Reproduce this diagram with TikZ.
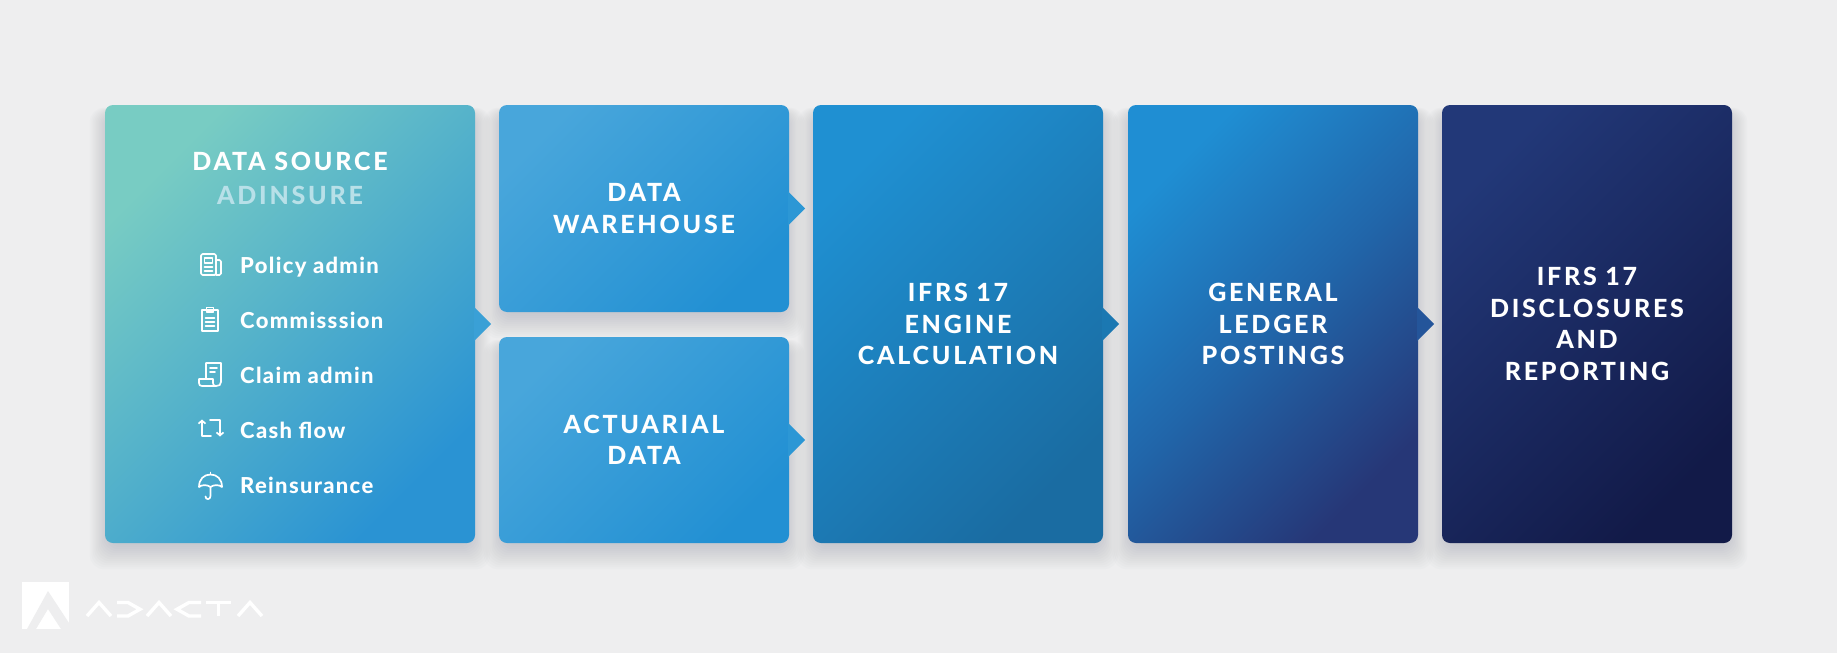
\documentclass[tikz,border=0pt]{standalone}
\usepackage{fontspec}
\setmainfont{Lato}
\newfontfamily\headfont{Lato}[LetterSpace=11,BoldFont={* Heavy}]
\newfontfamily\itemfont{Lato}[LetterSpace=6,BoldFont={* Heavy}]
\usetikzlibrary{arrows.meta,calc}
\pgfdeclarelayer{bgfill}
\pgfdeclarelayer{shadow}
\pgfsetlayers{bgfill,shadow,main}
\definecolor{bg}{HTML}{EEEEEF}
\definecolor{shd}{HTML}{8E90A0}
\definecolor{ca}{HTML}{78CCC3}
\definecolor{cb}{HTML}{2A93D3}
\definecolor{da}{HTML}{48A6DB}
\definecolor{db}{HTML}{2290D3}
\definecolor{ea}{HTML}{1F90D2}
\definecolor{eb}{HTML}{1A6CA2}
\definecolor{ga}{HTML}{1F8ED3}
\definecolor{gm}{HTML}{2166AA}
\definecolor{gb}{HTML}{263777}
\definecolor{ra}{HTML}{223878}
\definecolor{rb}{HTML}{121A48}
\definecolor{adins}{HTML}{B8E0E8}
\definecolor{tabA}{HTML}{3AA0D6}
\definecolor{tabB}{HTML}{2C97D5}
\definecolor{tabE}{HTML}{1B78B2}
\definecolor{tabG}{HTML}{24559A}
\tikzset{
  box/.style 2 args={rectangle, rounded corners=8pt, inner sep=0pt, text=white, align=center,
    font=\headfont\bfseries\fontsize{25}{31.5}\selectfont,
    top color=#1, bottom color=#2, shading angle=45},
  head/.style={text=white, anchor=base, font=\headfont\bfseries\fontsize{25}{31.5}\selectfont, inner sep=0pt},
  item/.style={text=white, anchor=base west, font=\itemfont\bfseries\fontsize{22}{26}\selectfont, inner sep=0pt},
  icon/.style={draw=white, line width=1.7pt, line cap=round, line join=round},
  logo/.style={draw=white, line width=3.4pt, line join=miter, line cap=butt},
  shadowpart/.style={fill=shd, opacity=0.03, rounded corners=14pt}
}
\newcommand\boxshadow[1]{%
  \foreach \i in {1,...,14}{%
    \path[shadowpart] ($(#1.north west)+(-\i*1.5+6,-\i*0.5+10)$) rectangle ($(#1.south east)+(\i*1.5-6,\i*2-2)$);}}
\begin{document}
\begin{tikzpicture}[x=1pt,y=-1pt]
\useasboundingbox (0,0) rectangle (1837,653);
\begin{pgfonlayer}{bgfill}
\fill[bg] (0,0) rectangle (1837,653);
\end{pgfonlayer}

% boxes
\node[box={ca}{cb}, minimum width=370pt, minimum height=438pt] (src) at (290,324) {};
\node[box={da}{db}, minimum width=290pt, minimum height=207pt] (dw) at (644,208.5) {DATA\\WAREHOUSE};
\node[box={da}{db}, minimum width=290pt, minimum height=206pt] (act) at (644,440) {ACTUARIAL\\DATA};
\node[box={ea}{eb}, minimum width=290pt, minimum height=438pt] (eng) at (958,324) {IFRS 17\\ENGINE\\CALCULATION};
\node[box={ga}{gb}, middle color=gm, shading angle=45, minimum width=290pt, minimum height=438pt] (gl) at (1273,324) {GENERAL\\LEDGER\\POSTINGS};
\node[box={ra}{rb}, minimum width=290pt, minimum height=438pt] (rep) at (1587,324) {IFRS 17\\DISCLOSURES\\AND\\REPORTING};

\begin{pgfonlayer}{shadow}
\boxshadow{src}\boxshadow{dw}\boxshadow{act}\boxshadow{eng}\boxshadow{gl}\boxshadow{rep}
\end{pgfonlayer}

% tabs (connectors)
\fill[tabA] ($(src.east)+(-1,-17)$) -- ($(src.east)+(16,0)$) -- ($(src.east)+(-1,17)$) -- cycle;
\fill[tabB] ($(dw.east)+(-1,-17)$) -- ($(dw.east)+(16,0)$) -- ($(dw.east)+(-1,17)$) -- cycle;
\fill[tabB] ($(act.east)+(-1,-17)$) -- ($(act.east)+(16,0)$) -- ($(act.east)+(-1,17)$) -- cycle;
\fill[tabE] ($(eng.east)+(-1,-17)$) -- ($(eng.east)+(16,0)$) -- ($(eng.east)+(-1,17)$) -- cycle;
\fill[tabG] ($(gl.east)+(-1,-17)$) -- ($(gl.east)+(16,0)$) -- ($(gl.east)+(-1,17)$) -- cycle;

% data source content
\node[head] (t1) at (290,170) {DATA SOURCE};
\node[head, text=adins] (t2) at (290,204) {ADINSURE};
\node[item] (i1) at (240,273) {Policy admin};
\node[item] (i2) at (240,328) {Commisssion};
\node[item] (i3) at (240,383) {Claim admin};
\node[item] (i4) at (240,438) {Cash flow};
\node[item] (i5) at (240,493) {Reinsurance};

% icon: policy
\draw[icon, rounded corners=1.5pt] (201,254) rectangle (216,275);
\draw[icon, rounded corners=1.5pt] (216,260) -- (221,260) -- (221,275) -- (216,275);
\draw[icon] (204.5,258) rectangle (212.5,263);
\draw[icon] (204.5,267) -- (212.5,267);
\draw[icon] (204.5,271) -- (212.5,271);
% icon: clipboard
\draw[icon] (202,310) rectangle (218,331);
\draw[icon] (206.5,307.5) rectangle (213.5,312);
\draw[icon] (205.5,318) -- (214.5,318);
\draw[icon] (205.5,322) -- (214.5,322);
\draw[icon] (205.5,326) -- (214.5,326);
% icon: claim scroll
\draw[icon] (206,379) -- (206,363) -- (221,363) -- (221,382) .. controls (221,385) and (219,386) .. (216,386) -- (202,386) .. controls (200,386) and (199,385) .. (199,383) -- (199,379) -- (213,379) -- (213,383) .. controls (213,385) and (214,386) .. (216,386);
\draw[icon] (210,368) -- (217,368);
\draw[icon] (210,372) -- (215,372);
% icon: cash flow
\draw[icon, -{Straight Barb[length=3pt,width=7pt]}] (211,436) -- (202,436) -- (202,419.5);
\draw[icon, -{Straight Barb[length=3pt,width=7pt]}] (210,420) -- (220,420) -- (220,436.5);
% icon: umbrella
\draw[icon] (199,487) .. controls (199,479) and (204,474.5) .. (210.5,474.5) .. controls (217,474.5) and (222,479) .. (222,487) .. controls (219,484.5) and (214,484.5) .. (210.5,487) .. controls (207,484.5) and (202,484.5) .. (199,487);
\draw[icon] (210.5,472.5) -- (210.5,474.5);
\draw[icon] (210.5,487) -- (210.5,496) .. controls (210.5,500) and (205.5,500) .. (205.5,496.5);

% logo
\fill[white] (22,582) rectangle (69,629);
\fill[bg] (27,629) -- (48,591) -- (69,623) -- (69,629) -- (61,629) -- (48,609) -- (36,629) -- cycle;
\draw[logo] (87,616) -- (99,602.5) -- (111,616);
\draw[logo] (117,602.5) -- (128,602.5) -- (140,609.25) -- (128,616) -- (117,616);
\draw[logo] (147,616) -- (159,602.5) -- (171,616);
\draw[logo] (201,602.5) -- (189,602.5) -- (177,609.25) -- (189,616) -- (201,616);
\draw[logo] (206,602.5) -- (231,602.5);
\draw[logo] (218.5,602.5) -- (218.5,616);
\draw[logo] (238,616) -- (250,602.5) -- (262,616);
\end{tikzpicture}
\end{document}
